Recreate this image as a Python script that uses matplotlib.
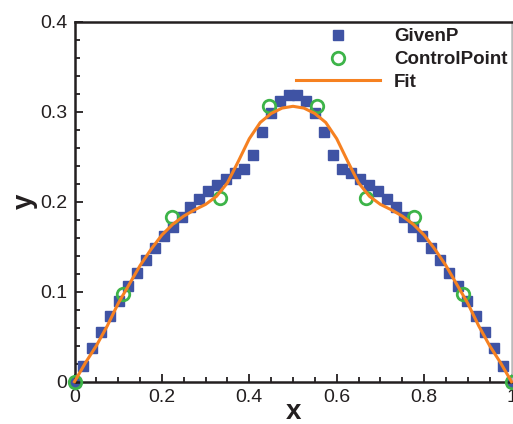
import numpy as np
import matplotlib
matplotlib.use("Agg")
import matplotlib.pyplot as plt
from matplotlib.ticker import MultipleLocator, FuncFormatter

plt.rcParams['font.family'] = ['Liberation Sans', 'DejaVu Sans']

# GivenP: 50 points, x = i/49
given_x = [i / 49 for i in range(50)]
given_y_left = [0.0, 0.0178, 0.0378, 0.0552, 0.073, 0.090, 0.1067, 0.1208, 0.1356, 0.1486,
                0.1614, 0.1722, 0.1833, 0.1938, 0.2027, 0.2116, 0.2189, 0.2249, 0.2316, 0.2360,
                0.2516, 0.2778, 0.2989, 0.3119, 0.3186]
given_y = given_y_left + given_y_left[::-1]

# ControlPoint
ctrl_x = [i / 9 for i in range(10)]
ctrl_y = [0.0, 0.0974, 0.1827, 0.2044, 0.3067, 0.3067, 0.2044, 0.1827, 0.0974, 0.0]

# Fit curve samples
fit_x = [i * 0.025 for i in range(41)]
fit_y_left = [0.0, 0.021, 0.040, 0.062, 0.087, 0.108, 0.129, 0.147, 0.163, 0.175,
              0.184, 0.191, 0.197, 0.206, 0.221, 0.245, 0.270, 0.288, 0.298, 0.304, 0.306]
fit_y = fit_y_left + fit_y_left[-2::-1]

fig = plt.figure(figsize=(5.13, 4.24), dpi=100)
ax = fig.add_axes([74.5 / 513, 1 - 381.7 / 424, (511.5 - 74.5) / 513, (381.7 - 21.7) / 424])

ax.plot(given_x, given_y, linestyle='none', marker='s', markersize=6.5,
        color='#3F53A4', label='GivenP', zorder=2, clip_on=False)
ax.plot(ctrl_x, ctrl_y, linestyle='none', marker='o', markersize=9,
        markerfacecolor='none', markeredgecolor='#3DB449', markeredgewidth=2,
        label='ControlPoint', zorder=3, clip_on=False)
ax.plot(fit_x, fit_y, color='#F68121', linewidth=2.2, label='Fit', zorder=4, clip_on=False)

ax.set_xlim(0, 1)
ax.set_ylim(0, 0.4)
ax.xaxis.set_major_locator(MultipleLocator(0.2))
ax.xaxis.set_minor_locator(MultipleLocator(0.05))
ax.yaxis.set_major_locator(MultipleLocator(0.1))
ax.yaxis.set_minor_locator(MultipleLocator(0.02))

fmt = FuncFormatter(lambda v, p: '0' if abs(v) < 1e-9 else ('1' if abs(v - 1) < 1e-9 else f'{v:.1f}'))
ax.xaxis.set_major_formatter(fmt)
ax.yaxis.set_major_formatter(fmt)

ax.tick_params(which='both', direction='in', top=False, right=False, colors='#231F20',
               labelsize=14, width=1.3)
ax.tick_params(which='major', length=6, pad=5)
ax.tick_params(which='minor', length=3.5)

for s in ax.spines.values():
    s.set_linewidth(1.8)
    s.set_color('#231F20')
ax.spines['right'].set_color('#BBBBBB')

ax.set_xlabel('x', fontsize=20, fontweight='bold', color='#231F20', labelpad=-5)
ax.set_ylabel('y', fontsize=20, fontweight='bold', color='#231F20', labelpad=2)

leg = ax.legend(loc='upper left', bbox_to_anchor=(291 / 513, 1 - 23.5 / 424),
                bbox_transform=fig.transFigure, frameon=False,
                prop={'size': 13.5, 'weight': 'bold'}, handlelength=4.5,
                handletextpad=0.75, labelspacing=0.3, borderpad=0.25, borderaxespad=0,
                markerscale=1)
for t in leg.get_texts():
    t.set_color('#231F20')

fig.savefig('out.png', dpi=100)
